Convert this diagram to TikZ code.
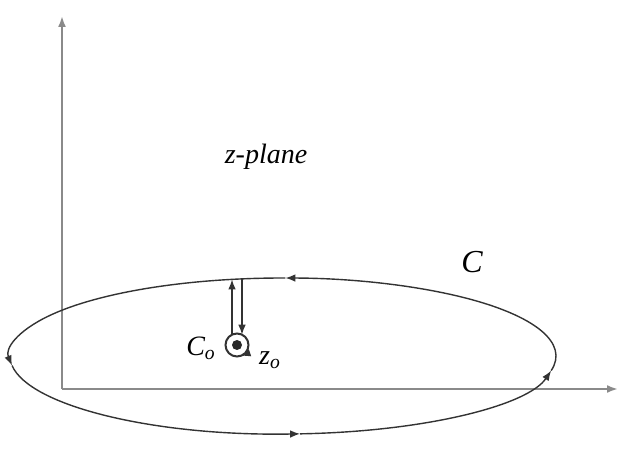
\documentclass[tikz,border=0pt]{standalone}
\usepackage{fontspec}
\setmainfont{Liberation Serif}
\definecolor{AxisGray}{HTML}{8A8A8A}
\definecolor{CurveInk}{HTML}{333333}
\usetikzlibrary{arrows.meta,positioning,calc}

\begin{document}
\begin{tikzpicture}[x=0.5pt,y=0.5pt,>=Latex]
    \useasboundingbox (0,0) rectangle (619,454);
    \tikzset{
      axis/.style={line width=1.1pt,draw=AxisGray,-{Latex[length=5.5pt,width=4pt]},color=AxisGray},
      contour/.style={line width=0.7pt,draw=CurveInk,-{Latex[length=5pt,width=3.8pt]},color=CurveInk},
      lab/.style={font=\fontsize{14}{16}\selectfont\itshape,inner sep=1pt}
    }
    % axes
    \coordinate (O) at (62,65);
    \coordinate (ytop) at (62,438);
    \coordinate (xend) at (618,65);
    \draw[axis] (O) -- (ytop);
    \draw[axis] (O) -- (xend);
    % big contour C
    \coordinate (cen) at (283,98);
    \foreach \a/\b in {-10.8/89.5,89.5/187,187/273.6,273.6/349.2} {
      \draw[contour] (cen) ++(\a:273 and 78)
        arc[start angle=\a,end angle=\b,x radius=273,y radius=78];
    }
    % small contour C_o round z_o
    \coordinate (zo) at (237,109);
    \draw[line width=1pt,draw=CurveInk] (zo) circle[radius=11.5];
    \draw[contour] (zo) ++(-20:11.5) arc[start angle=-20,end angle=-72,radius=11.5];
    \fill[CurveInk!80!black] (zo) circle[radius=5];
    % keyhole cut
    \coordinate (upbot) at (232,119.3);
    \coordinate (uptop) at (232,174.6);
    \coordinate (dntop) at (242,175.1);
    \coordinate (dnbot) at (242,119.3);
    \draw[contour] (upbot) -- (uptop);
    \draw[contour] (dntop) -- (dnbot);
    % labels
    \node[lab] (plane) at (266,297) {z-plane};
    \node[lab,font=\fontsize{16}{18}\selectfont\itshape] (cbig) at (472,192) {C};
    \node[lab] (co) at (201,106) {C\textsubscript{o}};
    \node[lab] (zolab) at (270,94) {z\textsubscript{o}};
  \end{tikzpicture}
\end{document}
